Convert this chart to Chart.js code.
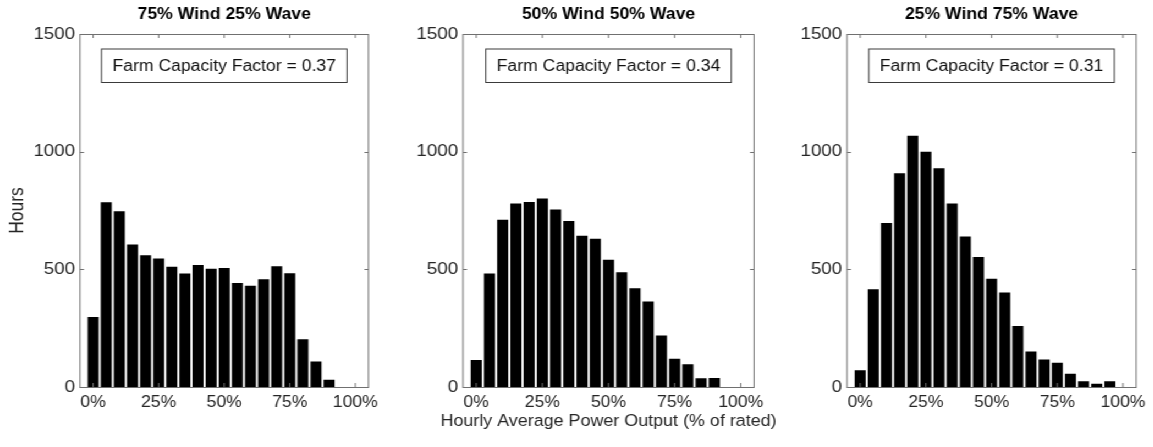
<!DOCTYPE html>
<html>
<head>
<meta charset="utf-8">
<script src="https://cdn.jsdelivr.net/npm/chart.js@4.4.1/dist/chart.umd.min.js"></script>
<style>
  html, body { margin: 0; padding: 0; background: #fff; width: 1153px; height: 447px; overflow: hidden; }
  #wrap { position: absolute; left: 0; top: 0; height: 447px; transform-origin: 0 0; }
  canvas { position: absolute; top: 0; }
</style>
</head>
<body>
<div id="wrap"></div>
<script>
// ---- data ----
const binCenters = [0, 5, 10, 15, 20, 25, 30, 35, 40, 45, 50, 55, 60, 65, 70, 75, 80, 85, 90, 95];
const hoursWind75Wave25 = [297, 785, 747, 605, 560, 546, 511, 482, 518, 502, 506, 442, 430, 458, 513, 483, 203, 108, 31];
const hoursWind50Wave50 = [115, 482, 711, 780, 786, 801, 754, 705, 643, 630, 541, 488, 420, 363, 219, 120, 97, 37, 38];
const hoursWind25Wave75 = [71, 415, 697, 908, 1068, 1000, 930, 780, 640, 552, 460, 402, 259, 151, 117, 103, 56, 24, 14, 24];
const panelTitles = ['75% Wind 25% Wave', '50% Wind 50% Wave', '25% Wind 75% Wave'];
const capacityFactors = [0.37, 0.34, 0.31];
const xTickValues = [0, 25, 50, 75, 100];
const yTickValues = [0, 500, 1000, 1500];
const yAxisLabel = 'Hours';
const xAxisLabel = 'Hourly Average Power Output (% of rated)';

// ---- layout ----
const S = 1.1; // horizontal stretch of the reference figure
const FONT = '"Liberation Sans", Arial, Helvetica, sans-serif';
const TXT = '#262626';
const AXC = '#707070';
// [canvas left, plot left, plot right, canvas right] in page pixels
const frames = [[0, 80, 372, 385], [385, 463, 754, 800], [770, 847, 1137, 1153]];
const seriesList = [hoursWind75Wave25, hoursWind50Wave50, hoursWind25Wave75];

const wrap = document.getElementById('wrap');
wrap.style.width = (1153 / S) + 'px';
wrap.style.transform = 'scaleX(' + S + ')';

const decor = {
  id: 'decor',
  afterDraw(chart) {
    const i = chart.options.plugins.decor.index;
    const {ctx, chartArea: a} = chart;
    const xs = chart.scales.x, ys = chart.scales.y;
    ctx.save();
    // frame
    ctx.strokeStyle = AXC;
    ctx.lineWidth = 1;
    ctx.strokeRect(a.left, a.top + 0.5, a.right - a.left, a.bottom - a.top);
    // inner ticks
    const tl = 4, tlx = 4 / S;
    ctx.beginPath();
    xTickValues.forEach(v => {
      const px = xs.getPixelForValue(v);
      ctx.moveTo(px, a.bottom); ctx.lineTo(px, a.bottom - tl);
      ctx.moveTo(px, a.top); ctx.lineTo(px, a.top + tl);
    });
    yTickValues.forEach(v => {
      const py = Math.round(ys.getPixelForValue(v)) + 0.5;
      ctx.moveTo(a.left, py); ctx.lineTo(a.left + tlx, py);
      ctx.moveTo(a.right, py); ctx.lineTo(a.right - tlx, py);
    });
    ctx.stroke();
    // title
    const cx = (a.left + a.right) / 2;
    ctx.fillStyle = '#000';
    ctx.font = 'bold 16px ' + FONT;
    ctx.textAlign = 'center';
    ctx.textBaseline = 'middle';
    ctx.fillText(panelTitles[i], cx, 15);
    // annotation box
    const txt = 'Farm Capacity Factor = ' + capacityFactors[i].toFixed(2);
    ctx.font = '16px ' + FONT;
    const tw = ctx.measureText(txt).width;
    const bw = tw + 20, by0 = a.top + 14.5, by1 = a.top + 48;
    ctx.fillStyle = '#fff';
    ctx.fillRect(cx - bw / 2, by0, bw, by1 - by0);
    ctx.strokeStyle = '#3a3a3a';
    ctx.strokeRect(cx - bw / 2, by0 + 0.5, bw, by1 - by0);
    ctx.fillStyle = '#111';
    ctx.fillText(txt, cx, (by0 + by1) / 2 + 1);
    // shared x-axis label under the middle panel
    if (i === 1) {
      ctx.font = '16.3px ' + FONT;
      ctx.fillStyle = TXT;
      ctx.fillText(xAxisLabel, cx, 422);
    }
    ctx.restore();
  }
};

frames.forEach(([L, A, B, R], i) => {
  const cw = Math.round((R - L) / S);
  const canvas = document.createElement('canvas');
  canvas.width = cw; canvas.height = 447;
  canvas.style.left = (L / S) + 'px';
  canvas.style.width = cw + 'px';
  canvas.style.height = '447px';
  wrap.appendChild(canvas);
  const vals = seriesList[i];
  new Chart(canvas, {
    type: 'bar',
    data: {
      datasets: [{
        data: vals.map((h, k) => ({x: binCenters[k], y: h})),
        backgroundColor: '#000',
        borderWidth: 0,
        barPercentage: 0.84,
        categoryPercentage: 1.0
      }]
    },
    plugins: [decor],
    options: {
      responsive: false,
      animation: false,
      devicePixelRatio: 1,
      layout: { padding: { top: 34, right: cw - (B - L) / S, bottom: 0, left: 0 } },
      plugins: {
        legend: { display: false },
        tooltip: { enabled: false },
        title: { display: false },
        decor: { index: i }
      },
      scales: {
        x: {
          type: 'linear',
          min: -5, max: 105,
          offset: false,
          grid: { display: false, drawTicks: false },
          border: { display: false },
          afterBuildTicks: s => { s.ticks = xTickValues.map(v => ({value: v})); },
          afterFit: s => { s.height = 60; },
          ticks: {
            callback: v => v + '%',
            color: TXT,
            padding: 6,
            maxRotation: 0,
            autoSkip: false,
            font: { family: FONT, size: 16 }
          }
        },
        y: {
          min: 0, max: 1500,
          grid: { display: false, drawTicks: false },
          border: { display: false },
          afterBuildTicks: s => { s.ticks = yTickValues.map(v => ({value: v})); },
          afterFit: s => { s.width = (A - L) / S; },
          ticks: {
            callback: v => String(v),
            color: TXT,
            padding: 4.5,
            font: { family: FONT, size: 17 }
          },
          title: {
            display: i === 0,
            text: yAxisLabel,
            color: TXT,
            font: { family: FONT, size: 17.5 },
            padding: { top: 6, bottom: 0 }
          }
        }
      }
    }
  });
});
</script>
</body>
</html>
